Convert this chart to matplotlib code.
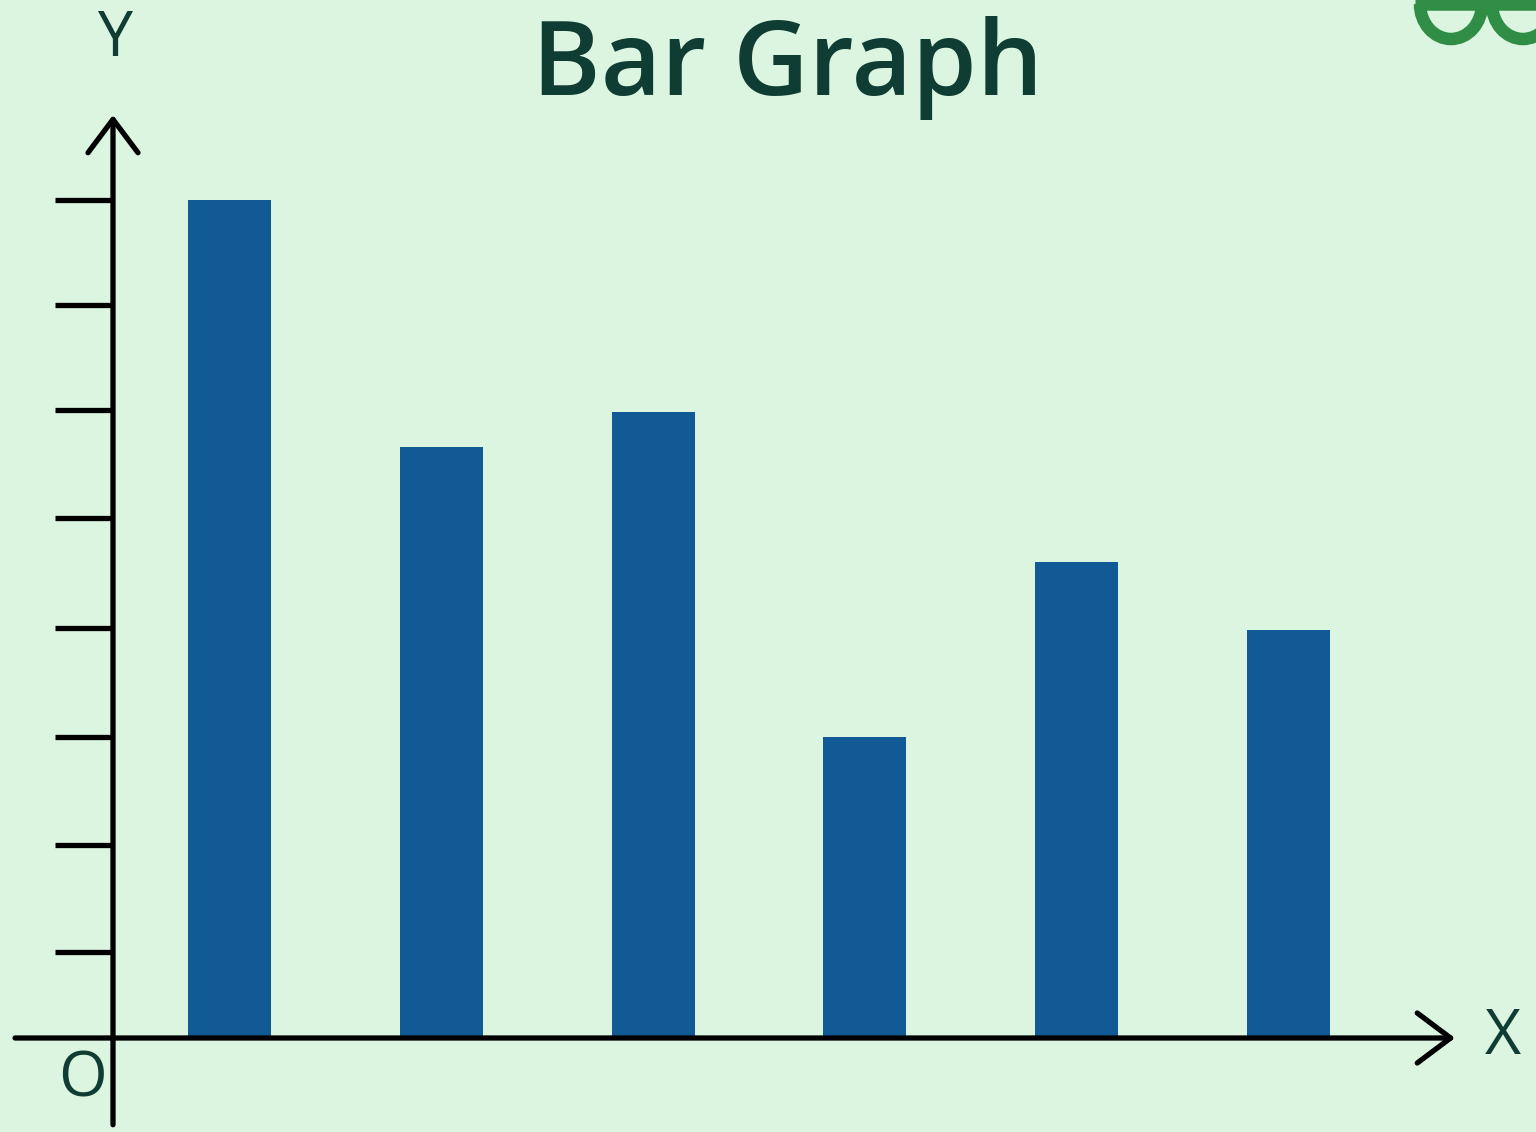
import matplotlib.pyplot as plt
from matplotlib.patches import Arc

# bar heights and tick levels (arbitrary units)
categories = ['A', 'B', 'C', 'D', 'E', 'F']
heights = [83.8, 59.1, 62.6, 30.1, 47.6, 40.8]
tick_levels = [8.6, 19.3, 30.1, 41.0, 52.0, 62.8, 73.3, 83.8]

bg = '#dcf5e0'
bar_color = '#115a95'
text_color = '#0f3d33'
logo_color = '#2f8d46'
W, H = 1536, 1132

fig = plt.figure(figsize=(W / 100, H / 100), dpi=100, facecolor=bg)
# axes box: origin at pixel (113, 1038), top at y=115, right at x=1455
ax = fig.add_axes([113 / W, 94 / H, 1342 / W, 923 / H])
ax.set_facecolor('none')

x = list(range(len(categories)))
ax.bar(x, heights, width=0.392, color=bar_color, zorder=2)
ax.set_xlim(-0.550, 5.786)
ax.set_ylim(0, 92.3)

for s in ax.spines.values():
    s.set_visible(False)
ax.set_xticks([])
ax.set_yticks(tick_levels)
ax.set_yticklabels([])
ax.tick_params(axis='y', length=41.7, width=3.8, color='black', direction='out')

# axis arrows
arrow = dict(arrowstyle='->, head_length=0.8, head_width=0.6', lw=3.8,
             color='black', mutation_scale=30, shrinkA=0, shrinkB=0)
ax.annotate('', xy=(0, 1.0), xytext=(0, -0.094), xycoords='axes fraction',
            arrowprops=arrow, annotation_clip=False)
ax.annotate('', xy=(1.0, 0), xytext=(-0.073, 0), xycoords='axes fraction',
            arrowprops=arrow, annotation_clip=False)

# labels, placed in figure pixel fractions
lab = dict(ha='center', va='center', fontsize=45, color=text_color,
           family='Open Sans')
fig.text(115 / W, 1 - 40 / H, 'Y', **lab)
fig.text(1503 / W, 1 - 1038 / H, 'X', **lab)
fig.text(82 / W, 1 - 1080 / H, 'O', **lab)
fig.text(788 / W, 1 - 95 / H, 'Bar Graph', ha='center', va='baseline',
         fontsize=75, color=text_color, family='Open Sans', weight='semibold')

# partial logo in the top right corner
logo = fig.add_axes([0, 0, 1, 1], zorder=-1)
logo.set_xlim(0, W)
logo.set_ylim(H, 0)
logo.axis('off')
logo.plot([1415, W], [4, 4], lw=9, color=logo_color, solid_capstyle='butt')
logo.add_patch(Arc((1451, 4), 62, 70, theta1=0, theta2=180, lw=9, color=logo_color))
logo.add_patch(Arc((1523, 4), 62, 70, theta1=0, theta2=180, lw=9, color=logo_color))

fig.savefig('out.png', dpi=100, facecolor=bg)
